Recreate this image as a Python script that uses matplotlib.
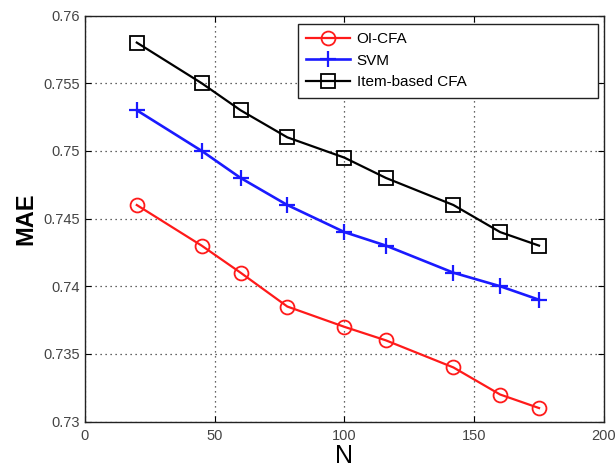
import matplotlib
matplotlib.use("Agg")
import matplotlib.pyplot as plt

N = [20, 45, 60, 78, 100, 116, 142, 160, 175]
oi_cfa = [0.746, 0.743, 0.741, 0.7385, 0.737, 0.736, 0.734, 0.732, 0.731]
svm = [0.753, 0.750, 0.748, 0.746, 0.744, 0.743, 0.741, 0.740, 0.739]
item_cfa = [0.758, 0.755, 0.753, 0.751, 0.7495, 0.748, 0.746, 0.744, 0.743]
labels = ["OI-CFA", "SVM", "Item-based CFA"]
xticks = [0, 50, 100, 150, 200]
yticks = [0.73, 0.735, 0.74, 0.745, 0.75, 0.755, 0.76]
ytick_labels = ["0.73", "0.735", "0.74", "0.745", "0.75", "0.755", "0.76"]

plt.rcParams['font.family'] = ['Liberation Sans', 'DejaVu Sans']

fig = plt.figure(figsize=(6.15, 4.70), dpi=100)
ax = fig.add_axes([0.138, 0.103, 0.844, 0.864])

ax.plot(N, oi_cfa, color='#ff1a1a', marker='o', markersize=10, markerfacecolor='none',
        markeredgewidth=1.3, linewidth=1.6, label=labels[0])
ax.plot(N, svm, color='#1a1aff', marker='+', markersize=12, markeredgewidth=1.6,
        linewidth=1.9, label=labels[1])
ax.plot(N, item_cfa, color='black', marker='s', markersize=9.5, markerfacecolor='none',
        markeredgewidth=1.3, linewidth=1.6, label=labels[2])

ax.set_xlim(0, 200)
ax.set_ylim(0.73, 0.76)
ax.set_xticks(xticks)
ax.set_yticks(yticks)
ax.set_yticklabels(ytick_labels)
ax.tick_params(direction='in', top=True, right=True, labelsize=10.5,
               labelcolor='#444444', length=4, width=0.8)
ax.tick_params(axis='x', pad=5)
ax.grid(True, linestyle=(0, (1, 3)), color='#333333', linewidth=0.9)
for s in ax.spines.values():
    s.set_color('#222222')
    s.set_linewidth(1.0)

ax.set_xlabel('N', fontsize=18, labelpad=1)
ax.set_ylabel('MAE', fontsize=17, fontweight='bold', labelpad=4)

leg = ax.legend(loc='upper left', bbox_to_anchor=(0.41, 0.98, 0.578, 0.0),
                mode='expand', borderaxespad=0, fontsize=11, fancybox=False,
                framealpha=1, edgecolor='#222222', handlelength=2.9,
                borderpad=0.55, labelspacing=0.5, handletextpad=0.4)
leg.get_frame().set_linewidth(1.0)

fig.savefig('out.png', dpi=100)
